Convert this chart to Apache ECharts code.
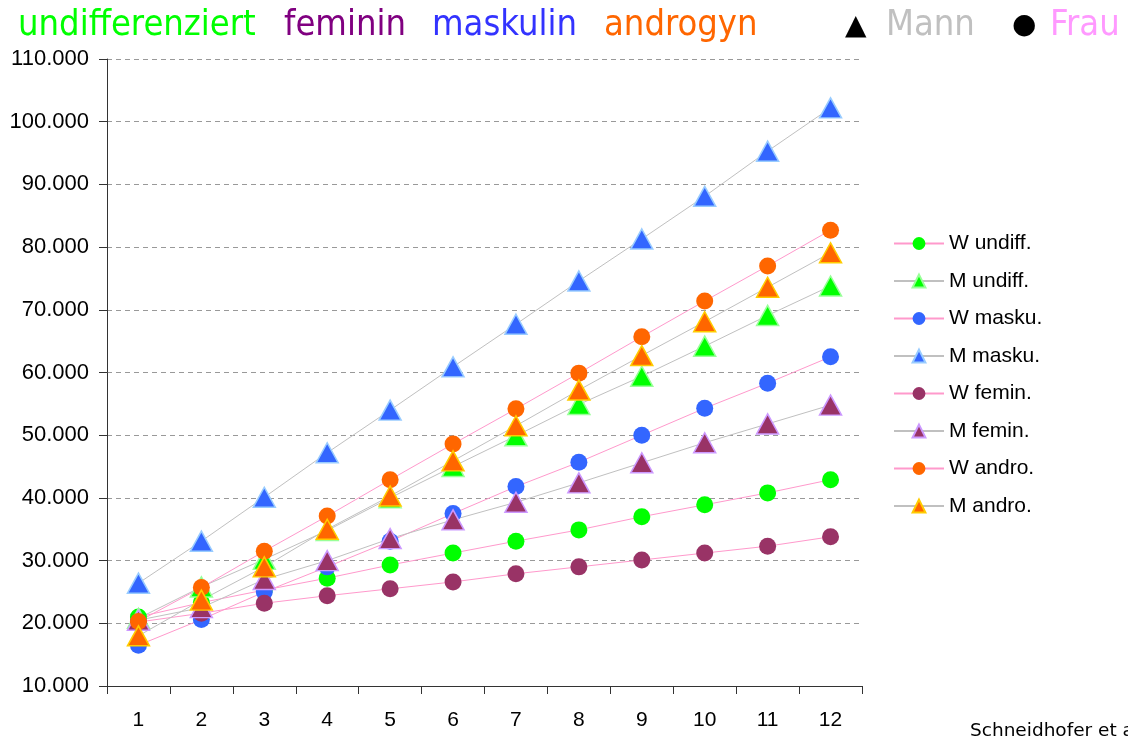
<!DOCTYPE html>
<html>
<head>
	<meta charset="UTF-8">
	<title>Einkommen nach Geschlechtsrolle</title>
	<script src="https://cdn.jsdelivr.net/npm/echarts@6/dist/echarts.min.js"></script>
	<style>
		html, body { margin: 0; padding: 0; background: #fff; }
		#chart { width: 1128px; height: 740px; }
	</style>
</head>
<body>
<div id="chart"></div>
<script type="text/javascript">
	// Jahre 1..12
	var years = ['1', '2', '3', '4', '5', '6', '7', '8', '9', '10', '11', '12'];

	var wUndiff = [21000, 23300, 25300, 27200, 29300, 31200, 33100, 34900, 37000, 38900, 40800, 42900];
	var mUndiff = [20800, 25800, 30200, 34800, 40000, 45000, 49900, 54900, 59400, 64200, 69100, 73800];
	var wMasku = [16500, 20600, 25000, 29000, 33100, 37500, 41800, 45700, 50000, 54300, 58300, 62500];
	var mMasku = [26400, 33100, 40100, 47200, 54000, 60900, 67700, 74600, 81300, 88100, 95300, 102200];
	var wFemin = [20200, 21600, 23200, 24400, 25500, 26600, 27900, 29000, 30100, 31200, 32300, 33800];
	var mFemin = [20500, 22500, 27000, 30000, 33500, 36500, 39300, 42400, 45600, 48800, 51800, 54800];
	var wAndro = [20300, 25700, 31500, 37100, 42900, 48600, 54200, 59900, 65700, 71400, 77000, 82700];
	var mAndro = [18000, 23700, 29000, 35000, 40300, 45900, 51500, 57200, 62700, 68100, 73600, 79100];

	var PINK = '#ff99cc', GRAY = '#c0c0c0';

	function fmt(v) {
		return String(v).replace(/\B(?=(\d{3})+(?!\d))/g, '.');
	}

	function mkSeries(name, data, isMan, fill, border) {
		return {
			name: name,
			type: 'line',
			data: data,
			symbol: isMan ? 'triangle' : 'circle',
			symbolSize: isMan ? [22, 20] : 17,
			lineStyle: { color: isMan ? GRAY : PINK, width: 1 },
			itemStyle: { color: fill, borderColor: border, borderWidth: isMan ? 1.5 : 0 },
			emphasis: { disabled: true },
			animation: false
		};
	}

	var titleFont = '36px DejaVu Sans Condensed';
	var myChart = echarts.init(document.getElementById('chart'));
	var option = {
		backgroundColor: '#ffffff',
		textStyle: { fontFamily: 'Liberation Sans, Arial, sans-serif' },
		graphic: [
			{ type: 'text', left: 18, top: 8, style: { text: 'undifferenziert', fill: '#00ff00', font: titleFont } },
			{ type: 'text', left: 284, top: 8, style: { text: 'feminin', fill: '#800080', font: titleFont } },
			{ type: 'text', left: 432, top: 8, style: { text: 'maskulin', fill: '#3333ff', font: titleFont } },
			{ type: 'text', left: 604, top: 8, style: { text: 'androgyn', fill: '#ff6600', font: titleFont } },
			{ type: 'text', left: 845, top: 13, style: { text: '▲', fill: '#000', font: '28px DejaVu Sans' } },
			{ type: 'text', left: 886, top: 8, style: { text: 'Mann', fill: '#c0c0c0', font: titleFont } },
			{ type: 'text', left: 1012, top: 12, style: { text: '●', fill: '#000', font: '28px DejaVu Sans' } },
			{ type: 'text', left: 1050, top: 8, style: { text: 'Frau', fill: '#ff99ff', font: titleFont } },
			{ type: 'text', left: 970, top: 722, style: { text: 'Schneidhofer et al.', fill: '#000', font: '18.5px DejaVu Sans' } }
		],
		legend: {
			orient: 'vertical',
			left: 888,
			top: 228,
			itemWidth: 50,
			itemHeight: 16,
			itemGap: 16.5,
			textStyle: { fontSize: 21, color: '#000', fontFamily: 'Liberation Sans' },
			selectedMode: false
		},
		grid: { left: 107, right: 266, top: 59, bottom: 54 },
		xAxis: {
			type: 'category',
			data: years,
			boundaryGap: true,
			axisLine: { lineStyle: { color: '#333', width: 1 } },
			axisTick: { show: true, length: 8, lineStyle: { color: '#333' } },
			axisLabel: { fontSize: 21, color: '#000', margin: 24 }
		},
		yAxis: {
			type: 'value',
			min: 10000,
			max: 110000,
			interval: 10000,
			axisLine: { show: true, lineStyle: { color: '#333', width: 1 } },
			axisTick: { show: true, length: 8, lineStyle: { color: '#333' } },
			axisLabel: { fontSize: 22, color: '#000', margin: 18, formatter: fmt },
			splitLine: { lineStyle: { color: '#999', type: [5, 4], width: 1 } }
		},
		series: [
			mkSeries('W undiff.', wUndiff, false, '#00ff00', '#00ff00'),
			mkSeries('M undiff.', mUndiff, true, '#00ff00', '#99ff99'),
			mkSeries('W masku.', wMasku, false, '#3366ff', '#3366ff'),
			mkSeries('M masku.', mMasku, true, '#3366ff', '#99ccff'),
			mkSeries('W femin.', wFemin, false, '#993366', '#993366'),
			mkSeries('M femin.', mFemin, true, '#993366', '#cc99ff'),
			mkSeries('W andro.', wAndro, false, '#ff6600', '#ff6600'),
			mkSeries('M andro.', mAndro, true, '#ff6600', '#ffcc00')
		]
	};
	myChart.setOption(option);
</script>
</body>
</html>
